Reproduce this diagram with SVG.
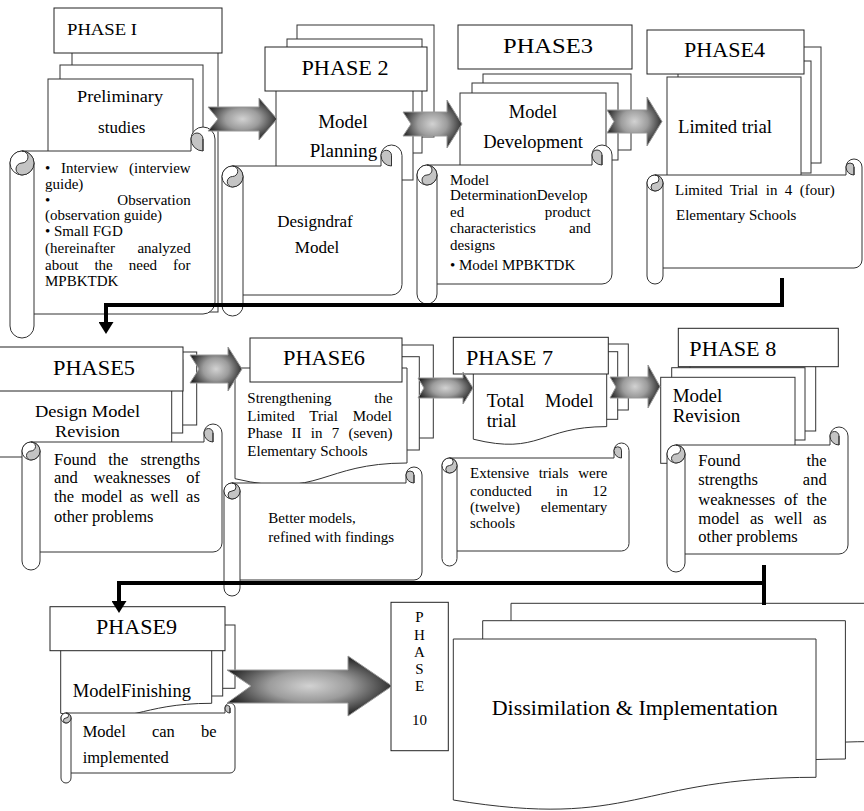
<svg xmlns="http://www.w3.org/2000/svg" width="864" height="811" viewBox="0 0 864 811" font-family="Liberation Serif, DejaVu Serif, serif">
<defs>
<style>
.pg{fill:#fff;stroke:#333;stroke-width:1}
.hd{fill:#fff;stroke:#222;stroke-width:1}
.sc{fill:#fff;stroke:#333;stroke-width:1}
.cg{fill:#c4c4c4;stroke:#333;stroke-width:1}
.ln{fill:none;stroke:#333;stroke-width:1}
.cw{fill:#fff;stroke:#333;stroke-width:1}
.con{fill:none;stroke:#000;stroke-width:4}
.ba{fill:url(#ag);stroke:#9a9a9a;stroke-width:1}
text{fill:#000}
.f15{font-size:15px}
.f16{font-size:16.5px}
.f17{font-size:17px}
.f18{font-size:18.5px}
.f19{font-size:19px}
.h20{font-size:20px}
.h21{font-size:21px}
</style>
<radialGradient id="ag" cx="0.5" cy="0.5" r="0.55">
<stop offset="0" stop-color="#d2d2d2"/>
<stop offset="0.45" stop-color="#9c9c9c"/>
<stop offset="1" stop-color="#1c1c1c"/>
</radialGradient>
<marker id="ah" markerUnits="userSpaceOnUse" markerWidth="12" markerHeight="15" refX="0" refY="7.5" orient="auto">
<path d="M0,0 L12,7.5 L0,15 Z" fill="#000"/>
</marker>
<path id="d10" d="M0,0 H362.7 V138.3 C181.35,138.3 181.35,190.8 0,161 Z"/>
</defs>
<rect width="864" height="811" fill="#fff"/>

<g id="phase1">
<rect class="pg" x="72" y="40" width="146" height="272"/>
<rect class="pg" x="60" y="65" width="143" height="235"/>
<rect class="pg" x="48" y="79" width="145" height="130"/>
<text class="f17" x="120" y="102" text-anchor="middle" textLength="86" lengthAdjust="spacingAndGlyphs">Preliminary</text>
<text class="f17" x="121.7" y="133" text-anchor="middle">studies</text>
<rect class="hd" x="54" y="8" width="168" height="45"/>
<text class="f17" x="67" y="35" textLength="70" lengthAdjust="spacingAndGlyphs">PHASE I</text>
<path class="sc" d="M22,151 L191,151 L191,139 A12,12 0 0 1 215,139 L215,302 A12,12 0 0 1 203,314 L34,314 L34,326 A12,12 0 0 1 10,326 L10,163 A12,12 0 0 1 22,151 Z"/>
<path class="ln" d="M34,163 V314"/>
<path class="cg" d="M203,151 A12,12 0 0 1 191,139 A6,6 0 0 1 203,139 Z"/>
<path class="ln" d="M203,139 V151"/>
<circle class="cw" cx="22" cy="163" r="12"/>
<path class="cg" d="M22,151 A12,12 0 0 1 22,175 A6,6 0 0 1 22,163 A6,6 0 0 0 22,151 Z"/>
<text class="f15" x="45" y="173" style="word-spacing:6.9px">• Interview (interview</text>
<text class="f15" x="45" y="189">guide)</text>
<text class="f15" x="45" y="205">•</text>
<text class="f15" x="190.7" y="205" text-anchor="end">Observation</text>
<text class="f15" x="45" y="220">(observation guide)</text>
<text class="f15" x="45" y="236">• Small FGD</text>
<text class="f15" x="45" y="253">(hereinafter</text>
<text class="f15" x="190.7" y="253" text-anchor="end">analyzed</text>
<text class="f15" x="45" y="270" style="word-spacing:12.3px">about the need for</text>
<text class="f15" x="45" y="286">MPBKTDK</text>
</g>

<g id="phase2">
<rect class="pg" x="297" y="25" width="137" height="112"/>
<rect class="pg" x="287" y="39" width="135" height="114"/>
<rect class="pg" x="276" y="60" width="137" height="120"/>
<text class="f19" x="343" y="128" text-anchor="middle">Model</text>
<text class="f19" x="343.5" y="157" text-anchor="middle">Planning</text>
<rect class="hd" x="265" y="47" width="162" height="44"/>
<text class="h21" x="345" y="75" text-anchor="middle" textLength="87" lengthAdjust="spacingAndGlyphs">PHASE 2</text>
<path class="sc" d="M232.5,166 L381,166 L381,155.5 A10.5,10.5 0 0 1 402,155.5 L402,284.5 A10.5,10.5 0 0 1 391.5,295 L243,295 L243,305.5 A10.5,10.5 0 0 1 222,305.5 L222,176.5 A10.5,10.5 0 0 1 232.5,166 Z"/>
<path class="ln" d="M243,176.5 V295"/>
<path class="cg" d="M391.5,166 A10.5,10.5 0 0 1 381,155.5 A5.25,5.25 0 0 1 391.5,155.5 Z"/>
<path class="ln" d="M391.5,155.5 V166"/>
<circle class="cw" cx="232.5" cy="176.5" r="10.5"/>
<path class="cg" d="M232.5,166 A10.5,10.5 0 0 1 232.5,187 A5.25,5.25 0 0 1 232.5,176.5 A5.25,5.25 0 0 0 232.5,166 Z"/>
<text class="f17" x="315" y="227" text-anchor="middle">Designdraf</text>
<text class="f17" x="317" y="253" text-anchor="middle">Model</text>
</g>

<g id="phase3">
<rect class="hd" x="458" y="25" width="174" height="44"/>
<text class="h20" x="548" y="53" text-anchor="middle" textLength="90" lengthAdjust="spacingAndGlyphs">PHASE3</text>
<rect class="pg" x="483" y="74" width="148" height="76"/>
<rect class="pg" x="472" y="83" width="146" height="77"/>
<rect class="pg" x="460" y="93" width="146" height="80"/>
<text class="f18" x="533" y="118" text-anchor="middle">Model</text>
<text class="f18" x="533" y="148" text-anchor="middle">Development</text>
<path class="sc" d="M427,165 L592,165 L592,155 A10,10 0 0 1 612,155 L612,274 A10,10 0 0 1 602,284 L437,284 L437,294 A10,10 0 0 1 417,294 L417,175 A10,10 0 0 1 427,165 Z"/>
<path class="ln" d="M437,175 V284"/>
<path class="cg" d="M602,165 A10,10 0 0 1 592,155 A5,5 0 0 1 602,155 Z"/>
<path class="ln" d="M602,155 V165"/>
<circle class="cw" cx="427" cy="175" r="10"/>
<path class="cg" d="M427,165 A10,10 0 0 1 427,185 A5,5 0 0 1 427,175 A5,5 0 0 0 427,165 Z"/>
<text class="f15" x="450" y="185">Model</text>
<text class="f15" x="450" y="200">DeterminationDevelop</text>
<text class="f15" x="450" y="217">ed</text>
<text class="f15" x="590.7" y="217" text-anchor="end">product</text>
<text class="f15" x="450" y="233">characteristics</text>
<text class="f15" x="590.7" y="233" text-anchor="end">and</text>
<text class="f15" x="450" y="250">designs</text>
<text class="f15" x="450" y="270">• Model MPBKTDK</text>
</g>

<g id="phase4">
<rect class="pg" x="690" y="47" width="131" height="116"/>
<rect class="pg" x="678" y="61" width="133" height="112"/>
<rect class="pg" x="667" y="77" width="134" height="103"/>
<text class="f19" x="678" y="133" textLength="94" lengthAdjust="spacingAndGlyphs">Limited trial</text>
<rect class="hd" x="647" y="30" width="157" height="44"/>
<text class="h21" x="724.5" y="57" text-anchor="middle" textLength="81" lengthAdjust="spacingAndGlyphs">PHASE4</text>
<path class="sc" d="M655,175 L846,175 L846,167 A8,8 0 0 1 862,167 L862,260 A8,8 0 0 1 854,268 L663,268 L663,276 A8,8 0 0 1 647,276 L647,183 A8,8 0 0 1 655,175 Z"/>
<path class="ln" d="M663,183 V268"/>
<path class="cg" d="M854,175 A8,8 0 0 1 846,167 A4,4 0 0 1 854,167 Z"/>
<path class="ln" d="M854,167 V175"/>
<circle class="cw" cx="655" cy="183" r="8"/>
<path class="cg" d="M655,175 A8,8 0 0 1 655,191 A4,4 0 0 1 655,183 A4,4 0 0 0 655,175 Z"/>
<text class="f15" x="675" y="195" style="word-spacing:3.7px">Limited Trial in 4 (four)</text>
<text class="f15" x="676" y="220">Elementary Schools</text>
</g>

<g id="phase5">
<rect class="pg" x="-10" y="352" width="206.7" height="73"/>
<rect class="pg" x="-10" y="360" width="192.7" height="73"/>
<rect class="pg" x="-10" y="385" width="181.7" height="72"/>
<text class="f17" x="87.5" y="417" text-anchor="middle" textLength="105" lengthAdjust="spacingAndGlyphs">Design Model</text>
<text class="f17" x="87.5" y="437" text-anchor="middle" textLength="65" lengthAdjust="spacingAndGlyphs">Revision</text>
<rect class="hd" x="-10" y="347" width="193" height="44"/>
<text class="h20" x="94" y="375" text-anchor="middle" textLength="82" lengthAdjust="spacingAndGlyphs">PHASE5</text>
<path class="sc" d="M31,442 L204,442 L204,433 A9,9 0 0 1 222,433 L222,543 A9,9 0 0 1 213,552 L40,552 L40,561 A9,9 0 0 1 22,561 L22,451 A9,9 0 0 1 31,442 Z"/>
<path class="ln" d="M40,451 V552"/>
<path class="cg" d="M213,442 A9,9 0 0 1 204,433 A4.5,4.5 0 0 1 213,433 Z"/>
<path class="ln" d="M213,433 V442"/>
<circle class="cw" cx="31" cy="451" r="9"/>
<path class="cg" d="M31,442 A9,9 0 0 1 31,460 A4.5,4.5 0 0 1 31,451 A4.5,4.5 0 0 0 31,442 Z"/>
<text class="f16" x="54" y="465" style="word-spacing:7.9px">Found the strengths</text>
<text class="f16" x="54" y="483" style="word-spacing:11.6px">and weaknesses of</text>
<text class="f16" x="54" y="502" style="word-spacing:3px">the model as well as</text>
<text class="f16" x="54" y="522">other problems</text>
</g>

<g id="phase6">
<rect class="pg" x="270" y="345" width="163.3" height="93"/>
<rect class="pg" x="260" y="356.7" width="159.3" height="93.3"/>
<path class="pg" d="M235,368 H407 V463 C321,463 321,499 235,478.7 Z"/>
<text class="f15" x="247.3" y="403">Strengthening</text>
<text class="f15" x="392.7" y="403" text-anchor="end">the</text>
<text class="f15" x="247.3" y="421" style="word-spacing:11px">Limited Trial Model</text>
<text class="f15" x="247.3" y="438" style="word-spacing:5.5px">Phase II in 7 (seven)</text>
<text class="f15" x="247.3" y="456">Elementary Schools</text>
<rect class="hd" x="250" y="338" width="152" height="44"/>
<text class="h20" x="324" y="365" text-anchor="middle" textLength="82" lengthAdjust="spacingAndGlyphs">PHASE6</text>
<path class="sc" d="M232,483 L406,483 L406,475 A8,8 0 0 1 422,475 L422,572 A8,8 0 0 1 414,580 L240,580 L240,588 A8,8 0 0 1 224,588 L224,491 A8,8 0 0 1 232,483 Z"/>
<path class="ln" d="M240,491 V580"/>
<path class="cg" d="M414,483 A8,8 0 0 1 406,475 A4,4 0 0 1 414,475 Z"/>
<path class="ln" d="M414,475 V483"/>
<circle class="cw" cx="232" cy="491" r="8"/>
<path class="cg" d="M232,483 A8,8 0 0 1 232,499 A4,4 0 0 1 232,491 A4,4 0 0 0 232,483 Z"/>
<text class="f15" x="268.3" y="523">Better models,</text>
<text class="f15" x="268.3" y="542">refined with findings</text>
</g>

<g id="phase7">
<rect class="pg" x="500" y="344" width="128.3" height="66"/>
<rect class="pg" x="487" y="351.7" width="130.7" height="67.6"/>
<path class="pg" d="M473.3,350 H606.7 V426.6 C540,426.6 540,455.7 473.3,439.2 Z"/>
<text class="f18" x="486.7" y="407">Total</text>
<text class="f18" x="593.3" y="407" text-anchor="end">Model</text>
<text class="f18" x="486.7" y="427">trial</text>
<rect class="hd" x="453.3" y="337.3" width="155" height="36.7"/>
<text class="h20" x="466" y="365" textLength="87" lengthAdjust="spacingAndGlyphs">PHASE 7</text>
<path class="sc" d="M449.5,458 L614,458 L614,450.5 A7.5,7.5 0 0 1 629,450.5 L629,543.5 A7.5,7.5 0 0 1 621.5,551 L457,551 L457,558.5 A7.5,7.5 0 0 1 442,558.5 L442,465.5 A7.5,7.5 0 0 1 449.5,458 Z"/>
<path class="ln" d="M457,465.5 V551"/>
<path class="cg" d="M621.5,458 A7.5,7.5 0 0 1 614,450.5 A3.75,3.75 0 0 1 621.5,450.5 Z"/>
<path class="ln" d="M621.5,450.5 V458"/>
<circle class="cw" cx="449.5" cy="465.5" r="7.5"/>
<path class="cg" d="M449.5,458 A7.5,7.5 0 0 1 449.5,473 A3.75,3.75 0 0 1 449.5,465.5 A3.75,3.75 0 0 0 449.5,458 Z"/>
<text class="f15" x="470" y="478" style="word-spacing:5.75px">Extensive trials were</text>
<text class="f15" x="470" y="496" style="word-spacing:20.7px">conducted in 12</text>
<text class="f15" x="470" y="512">(twelve)</text>
<text class="f15" x="607.3" y="512" text-anchor="end">elementary</text>
<text class="f15" x="470" y="528">schools</text>
</g>

<g id="phase8">
<rect class="pg" x="690" y="355" width="125.7" height="76"/>
<rect class="pg" x="671.7" y="367.7" width="133.3" height="72.3"/>
<rect class="pg" x="660.7" y="377.3" width="134.3" height="86"/>
<text class="f19" x="672.7" y="402">Model</text>
<text class="f19" x="672.7" y="422">Revision</text>
<rect class="hd" x="678.3" y="328.3" width="160" height="38.4"/>
<text class="h20" x="689.3" y="356" textLength="87" lengthAdjust="spacingAndGlyphs">PHASE 8</text>
<path class="sc" d="M676,445 L830,445 L830,436 A9,9 0 0 1 848,436 L848,545 A9,9 0 0 1 839,554 L685,554 L685,563 A9,9 0 0 1 667,563 L667,454 A9,9 0 0 1 676,445 Z"/>
<path class="ln" d="M685,454 V554"/>
<path class="cg" d="M839,445 A9,9 0 0 1 830,436 A4.5,4.5 0 0 1 839,436 Z"/>
<path class="ln" d="M839,436 V445"/>
<circle class="cw" cx="676" cy="454" r="9"/>
<path class="cg" d="M676,445 A9,9 0 0 1 676,463 A4.5,4.5 0 0 1 676,454 A4.5,4.5 0 0 0 676,445 Z"/>
<text class="f16" x="698.3" y="466">Found</text>
<text class="f16" x="826.7" y="466" text-anchor="end">the</text>
<text class="f16" x="698.3" y="485">strengths</text>
<text class="f16" x="826.7" y="485" text-anchor="end">and</text>
<text class="f16" x="698.3" y="505" style="word-spacing:4.65px">weaknesses of the</text>
<text class="f16" x="698.3" y="524" style="word-spacing:6.3px">model as well as</text>
<text class="f16" x="698.3" y="542">other problems</text>
</g>

<g id="phase9">
<rect class="pg" x="80" y="625" width="155" height="63.3"/>
<rect class="pg" x="70" y="637" width="152.7" height="59"/>
<path class="pg" d="M60.7,642.3 H211.7 V703.3 C136.2,703.3 136.2,726.4 60.7,713.3 Z"/>
<text class="f18" x="72.7" y="697">ModelFinishing</text>
<rect class="hd" x="50" y="606.7" width="175" height="44"/>
<text class="h21" x="136.5" y="634" text-anchor="middle" textLength="81" lengthAdjust="spacingAndGlyphs">PHASE9</text>
<path class="sc" d="M66,713 L225,713 L225,708 A5,5 0 0 1 235,708 L235,768 A5,5 0 0 1 230,773 L71,773 L71,778 A5,5 0 0 1 61,778 L61,718 A5,5 0 0 1 66,713 Z"/>
<path class="ln" d="M71,718 V773"/>
<path class="cg" d="M230,713 A5,5 0 0 1 225,708 A2.5,2.5 0 0 1 230,708 Z"/>
<path class="ln" d="M230,708 V713"/>
<circle class="cw" cx="66" cy="718" r="5"/>
<path class="cg" d="M66,713 A5,5 0 0 1 66,723 A2.5,2.5 0 0 1 66,718 A2.5,2.5 0 0 0 66,713 Z"/>
<text class="f16" x="82.7" y="737" style="word-spacing:22px">Model can be</text>
<text class="f16" x="82.7" y="763">implemented</text>
</g>

<g id="phase10">
<rect class="hd" x="391" y="602.3" width="57.3" height="148.4"/>
<text class="f15" x="419.5" y="622" text-anchor="middle">P</text>
<text class="f15" x="419.5" y="639.5" text-anchor="middle">H</text>
<text class="f15" x="419.5" y="657" text-anchor="middle">A</text>
<text class="f15" x="419.5" y="674" text-anchor="middle">S</text>
<text class="f15" x="419.5" y="691" text-anchor="middle">E</text>
<text class="f15" x="419.5" y="724.5" text-anchor="middle">10</text>
</g>

<g id="implementation">
<use href="#d10" class="pg" x="511" y="603.3"/>
<use href="#d10" class="pg" x="482.7" y="620.7"/>
<use href="#d10" class="pg" x="453.3" y="639"/>
<text x="634.7" y="715" text-anchor="middle" style="font-size:22px">Dissimilation &amp; Implementation</text>
</g>

<g id="connectors">
<path class="ba" d="M208,107 H259 V98 L277,119 L259,140 V131 H208 L218,119 Z"/>
<path class="ba" d="M403,112 H447 V100 L462,124 L447,148 V136 H403 L411,124 Z"/>
<path class="ba" d="M607,110 H647 V97 L662,121.5 L647,146 V133 H607 L614,121.5 Z"/>
<path class="ba" d="M190,355 H228 V347 L242,369 L228,391 V383 H190 L199,369 Z"/>
<path class="ba" d="M418,378 H463 V372 L473,388 L463,404 V398 H418 L424,388 Z"/>
<path class="ba" d="M610,377 H648 V365 L660,386.5 L648,408 V398 H610 L616,387 Z"/>
<path class="ba" d="M227,670 H348 V656 L392,686 L348,716 V703 H227 L251,686 Z"/>
<path class="con" d="M782,278 V305 H106 V322" marker-end="url(#ah)"/>
<path class="con" d="M764,583 H119 V601" marker-end="url(#ah)"/>
<path class="con" d="M764,565 V605"/>
</g>
</svg>
